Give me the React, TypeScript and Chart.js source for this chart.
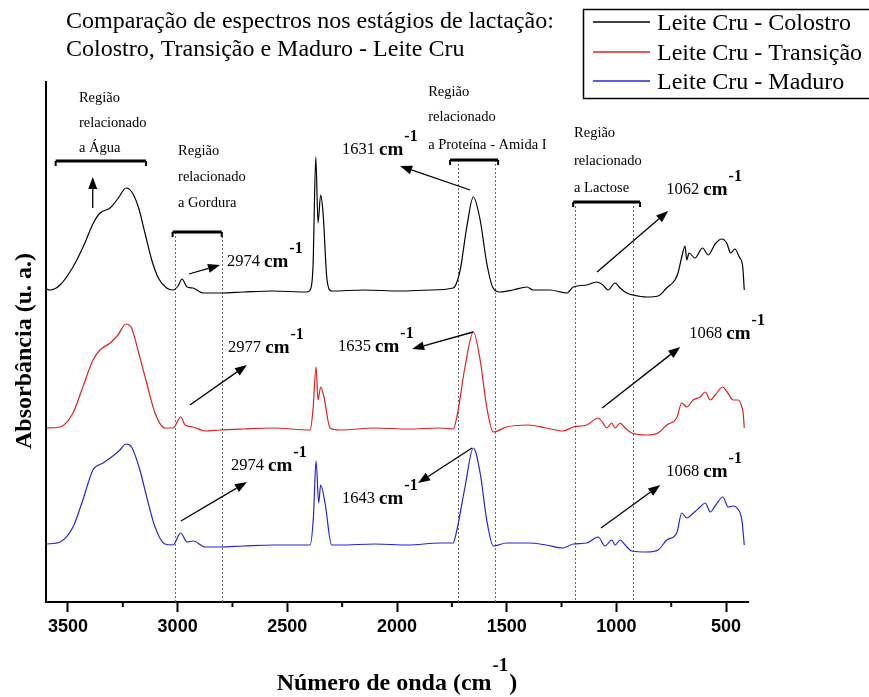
import React, { useEffect, useRef } from "react";
import { Chart, registerables } from "chart.js";

Chart.register(...registerables);

// ---------- data (wavenumber in cm-1, absorbance in arbitrary units, spectra stacked) ----------
const seriesLabels = ["Leite Cru - Colostro", "Leite Cru - Transição", "Leite Cru - Maduro"];

const colostroWn = [3600,3582,3536,3477,3431,3384,3354,3308,3270,3235,3209,3179,3149,3118,3088,3050,3020,2998,2980,2957,2930,2884,2798,2700,2565,2410,2396,2383,2370,2360,2348,2337,2319,2298,2150,1986,1850,1744,1712,1682,1652,1621,1591,1562,1530,1471,1408,1380,1302,1226,1196,1135,1090,1061,1038,1006,983,953,924,861,810,771,733,719,702,687,679,669,642,607,581,550,520,497,479,460,440,424,417];
const colostroAbs = [31.3,31.2,31.7,33.5,35.5,37.9,38.9,39.4,40.4,41.4,41.0,39.5,36.9,34.2,32.4,31.4,31.2,31.6,32.3,31.5,31.4,30.9,30.9,31.0,31.1,31.0,31.2,33.5,44.5,37.9,40.7,38.9,32.2,31.1,31.2,31.1,31.2,31.4,33.2,37.5,40.5,38.2,33.9,31.4,31.0,31.2,31.5,31.2,31.2,30.9,31.5,31.7,32.0,31.7,31.2,31.9,31.4,30.9,30.7,30.5,30.6,31.4,32.2,32.9,34.5,35.6,34.2,34.9,34.4,35.4,34.7,35.8,36.3,35.9,34.9,35.3,34.5,33.5,31.2];

const transicaoWn = [3597,3536,3477,3432,3386,3354,3308,3272,3236,3210,3181,3141,3103,3058,3021,2986,2966,2930,2875,2807,2700,2565,2396,2383,2369,2360,2348,2333,2305,2260,2100,1950,1804,1744,1727,1690,1652,1621,1591,1561,1500,1402,1320,1243,1197,1135,1083,1061,1044,1021,1006,983,960,930,861,810,770,725,702,679,650,618,595,572,550,515,495,467,444,428,422,417];
const transicaoAbs = [17.4,17.5,18.9,21.5,24.2,25.2,25.9,26.7,27.8,27.4,25.2,21.9,18.9,17.4,17.4,18.5,17.7,17.5,17.1,17.2,17.3,17.4,17.2,19.2,23.5,20.2,21.5,20.5,17.4,17.2,17.4,17.3,17.4,17.3,18.5,23.5,27.0,24.2,19.5,17.0,17.5,17.7,17.4,17.1,17.5,17.7,18.4,17.9,17.4,17.9,17.4,17.9,17.4,16.9,16.7,16.9,17.7,18.4,19.9,19.5,20.2,20.5,21.0,20.2,20.7,21.5,21.0,20.2,20.2,19.5,18.9,17.4];

const maduroWn = [3597,3536,3477,3432,3386,3340,3301,3263,3236,3210,3172,3141,3103,3058,3021,2986,2957,2929,2875,2807,2700,2565,2396,2381,2369,2357,2348,2328,2298,2260,2100,1950,1804,1744,1727,1690,1652,1621,1591,1561,1500,1402,1320,1243,1197,1135,1083,1052,1021,1006,983,960,930,861,810,770,725,702,679,649,618,595,572,550,515,490,467,450,428,417];
const maduroAbs = [5.8,6.0,7.5,10.2,13.2,13.9,14.5,15.2,15.8,15.5,13.2,10.5,7.5,5.8,5.7,6.9,6.0,6.1,5.5,5.5,5.6,5.7,5.7,8.5,14.1,9.9,11.7,9.9,5.7,5.7,5.8,5.7,5.9,5.9,7.2,11.5,15.4,12.9,8.2,5.6,5.9,5.9,5.7,5.4,5.8,5.9,6.5,5.6,6.2,5.7,6.2,5.7,5.1,5.0,5.2,6.2,6.9,8.9,8.4,8.9,9.5,9.9,9.0,9.6,10.5,9.5,9.6,9.4,8.2,5.7];

const xTickValues = [500, 1000, 1500, 2000, 2500, 3000, 3500];
const xMinorTicks = [750, 1250, 1750, 2250, 2750, 3250];

const titleLines = ["Comparação de espectros nos estágios de lactação:", "Colostro, Transição e Maduro - Leite Cru"];
const xTitle = "Número de onda (cm";
const yTitle = "Absorbância (u. a.)";

// region annotations (anchored in data coordinates)
const regions = [
  { lines: ["Região", "relacionado", "a Água"], textX: 3450, textY: [50.4, 47.9, 45.4], from: 3556, to: 3144, level: 44.1, guides: [] as number[] },
  { lines: ["Região", "relacionado", "a Gordura"], textX: 2998, textY: [45.1, 42.5, 39.9], from: 3023, to: 2799, level: 37.0, guides: [3010, 2800] },
  { lines: ["Região", "relacionado", "a Proteína - Amida I"], textX: 1858, textY: [51.0, 48.5, 45.7], from: 1758, to: 1539, level: 44.2, guides: [1722, 1552] },
  { lines: ["Região", "relacionado", "a Lactose"], textX: 1193, textY: [46.9, 44.1, 41.4], from: 1197, to: 892, level: 40.0, guides: [1190, 925] },
];

const peakLabels = [
  { num: "2974", x: 2775, y: 34.0, from: [2948, 32.8], to: [2807, 33.7] },
  { num: "1631", x: 2251, y: 45.2, from: [1667, 41.2], to: [1986, 43.6] },
  { num: "1062", x: 773, y: 41.2, from: [1088, 33.0], to: [764, 39.1] },
  { num: "2977", x: 2770, y: 25.4, from: [2944, 19.7], to: [2684, 23.7] },
  { num: "1635", x: 2269, y: 25.5, from: [1653, 27.0], to: [1931, 25.3] },
  { num: "1068", x: 668, y: 26.8, from: [1065, 19.4], to: [709, 25.5] },
  { num: "2974", x: 2757, y: 13.6, from: [2985, 8.1], to: [2684, 12.0] },
  { num: "1643", x: 2251, y: 10.3, from: [1658, 15.4], to: [1904, 11.9] },
  { num: "1068", x: 773, y: 13.0, from: [1070, 7.4], to: [800, 11.7] },
];

const waterArrow = { x: 3387, from: 39.4, to: 42.5 };

const SERIF = '"Liberation Serif", "Times New Roman", serif';

function drawArrow(ctx: CanvasRenderingContext2D, x1: number, y1: number, x2: number, y2: number) {
  const a = Math.atan2(y2 - y1, x2 - x1);
  const L = 12, W = 4.5;
  const bx = x2 - L * Math.cos(a), by = y2 - L * Math.sin(a);
  ctx.beginPath();
  ctx.moveTo(x1, y1);
  ctx.lineTo(bx, by);
  ctx.stroke();
  ctx.beginPath();
  ctx.moveTo(x2, y2);
  ctx.lineTo(bx + W * Math.sin(a), by - W * Math.cos(a));
  ctx.lineTo(bx - W * Math.sin(a), by + W * Math.cos(a));
  ctx.closePath();
  ctx.fill();
}

const annotationPlugin = {
  id: "ftirAnnotations",
  beforeDatasetsDraw(chart: any) {
    const ctx: CanvasRenderingContext2D = chart.ctx;
    const xs = chart.scales.x, ys = chart.scales.y;
    ctx.save();
    ctx.strokeStyle = "#666";
    ctx.lineWidth = 1;
    ctx.setLineDash([2, 2]);
    regions.forEach((r) => {
      r.guides.forEach((g) => {
        const px = Math.round(xs.getPixelForValue(g)) + 0.5;
        ctx.beginPath();
        ctx.moveTo(px, ys.getPixelForValue(r.level));
        ctx.lineTo(px, ys.getPixelForValue(0));
        ctx.stroke();
      });
    });
    ctx.restore();
  },
  afterDraw(chart: any) {
    const ctx: CanvasRenderingContext2D = chart.ctx;
    const xs = chart.scales.x, ys = chart.scales.y;
    const X = (v: number) => xs.getPixelForValue(v);
    const Y = (v: number) => ys.getPixelForValue(v);
    const area = chart.chartArea;
    ctx.save();

    // minor ticks
    ctx.strokeStyle = "#000";
    ctx.lineWidth = 2;
    xMinorTicks.forEach((t) => {
      const px = X(t);
      ctx.beginPath();
      ctx.moveTo(px, area.bottom);
      ctx.lineTo(px, area.bottom + 5);
      ctx.stroke();
    });

    // region brackets and labels
    ctx.fillStyle = "#000";
    ctx.textAlign = "left";
    ctx.textBaseline = "middle";
    regions.forEach((r) => {
      const x1 = X(r.from), x2 = X(r.to), y = Y(r.level);
      ctx.lineWidth = 3;
      ctx.beginPath();
      ctx.moveTo(x1, y);
      ctx.lineTo(x2, y);
      ctx.stroke();
      ctx.lineWidth = 2;
      ctx.beginPath();
      ctx.moveTo(x1, y);
      ctx.lineTo(x1, y + 5);
      ctx.moveTo(x2, y);
      ctx.lineTo(x2, y + 5);
      ctx.stroke();
      ctx.font = `14.5px ${SERIF}`;
      r.lines.forEach((line, i) => ctx.fillText(line, X(r.textX), Y(r.textY[i])));
    });

    // water arrow
    ctx.lineWidth = 1.3;
    drawArrow(ctx, X(waterArrow.x), Y(waterArrow.from), X(waterArrow.x), Y(waterArrow.to));

    // peak labels and arrows
    peakLabels.forEach((p) => {
      ctx.lineWidth = 1.3;
      drawArrow(ctx, X(p.from[0]), Y(p.from[1]), X(p.to[0]), Y(p.to[1]));
      const x = X(p.x), y = Y(p.y);
      ctx.font = `16.5px ${SERIF}`;
      ctx.fillText(p.num, x, y);
      let w = ctx.measureText(p.num + " ").width;
      ctx.font = `bold 19px ${SERIF}`;
      ctx.fillText("cm", x + w, y);
      w += ctx.measureText("cm").width + 1;
      ctx.font = `bold 16px ${SERIF}`;
      ctx.fillText("-1", x + w, y - 13);
    });

    // title
    ctx.font = `24px ${SERIF}`;
    ctx.fillText(titleLines[0], 66, 22);
    ctx.fillText(titleLines[1], 66, 50);

    // legend
    ctx.lineWidth = 1.5;
    ctx.strokeStyle = "#000";
    ctx.beginPath();
    ctx.moveTo(880, 9.5);
    ctx.lineTo(583.5, 9.5);
    ctx.lineTo(583.5, 98.5);
    ctx.lineTo(880, 98.5);
    ctx.stroke();
    const rows = [24, 54, 83];
    chart.data.datasets.forEach((ds: any, i: number) => {
      ctx.strokeStyle = ds.borderColor;
      ctx.lineWidth = 1.3;
      ctx.beginPath();
      ctx.moveTo(593, rows[i] - 2);
      ctx.lineTo(650, rows[i] - 2);
      ctx.stroke();
      ctx.fillStyle = "#000";
      ctx.font = `24px ${SERIF}`;
      ctx.fillText(ds.label, 657, rows[i]);
    });

    // y title
    ctx.save();
    ctx.translate(25, 351);
    ctx.rotate(-Math.PI / 2);
    ctx.textAlign = "center";
    ctx.font = `bold 24px ${SERIF}`;
    ctx.fillText(yTitle, 0, 0);
    ctx.restore();

    // x title with superscript
    ctx.font = `bold 24px ${SERIF}`;
    const mainW = ctx.measureText(xTitle).width;
    ctx.font = `bold 19px ${SERIF}`;
    const supW = ctx.measureText("-1").width;
    ctx.font = `bold 24px ${SERIF}`;
    const closeW = ctx.measureText(")").width;
    const total = mainW + supW + closeW + 2;
    let sx = (area.left + area.right) / 2 - total / 2;
    const ty = 684;
    ctx.textAlign = "left";
    ctx.fillText(xTitle, sx, ty);
    sx += mainW + 1;
    ctx.font = `bold 19px ${SERIF}`;
    ctx.fillText("-1", sx, ty - 18);
    sx += supW + 1;
    ctx.font = `bold 24px ${SERIF}`;
    ctx.fillText(")", sx, ty);

    ctx.restore();
  },
};

function toPoints(wn: number[], abs: number[]) {
  return wn.map((x, i) => ({ x, y: abs[i] }));
}

export default function App() {
  const ref = useRef<HTMLCanvasElement>(null);
  useEffect(() => {
    const canvas = ref.current!;
    const lineCommon = { pointRadius: 0, borderWidth: 1.2, cubicInterpolationMode: "monotone" as const, fill: false };
    const chart = new Chart(canvas, {
      type: "line",
      data: {
        datasets: [
          { label: seriesLabels[0], data: toPoints(colostroWn, colostroAbs), borderColor: "#000000", ...lineCommon },
          { label: seriesLabels[1], data: toPoints(transicaoWn, transicaoAbs), borderColor: "#e02020", ...lineCommon },
          { label: seriesLabels[2], data: toPoints(maduroWn, maduroAbs), borderColor: "#2424d6", ...lineCommon },
        ],
      },
      options: {
        animation: false,
        responsive: false,
        devicePixelRatio: 1,
        layout: { padding: { top: 82, right: 121, left: 0, bottom: 0 } },
        plugins: { legend: { display: false }, tooltip: { enabled: false }, title: { display: false } },
        scales: {
          x: {
            type: "linear",
            reverse: true,
            min: 400,
            max: 3600,
            afterFit: (s: any) => { s.height = 95; },
            afterBuildTicks: (s: any) => { s.ticks = xTickValues.map((v) => ({ value: v })); },
            ticks: {
              callback: (v: any) => String(v),
              font: { family: '"Liberation Sans", Arial, sans-serif', weight: "bold", size: 18 },
              color: "#000",
              padding: 4,
              maxRotation: 0,
              autoSkip: false,
            },
            grid: { display: true, drawOnChartArea: false, drawTicks: true, tickLength: 10, tickWidth: 2, tickColor: "#000" },
            border: { display: true, width: 2, color: "#000" },
          },
          y: {
            type: "linear",
            min: 0,
            max: 52,
            afterFit: (s: any) => { s.width = 46; },
            ticks: { display: false },
            grid: { display: false },
            border: { display: true, width: 2, color: "#000" },
          },
        },
      } as any,
      plugins: [annotationPlugin],
    });
    return () => chart.destroy();
  }, []);
  return (
    <div style={{ position: "fixed", left: 0, top: 0, width: 869, height: 697, background: "#fff" }}>
      <canvas ref={ref} width={869} height={697} style={{ display: "block" }} />
    </div>
  );
}
